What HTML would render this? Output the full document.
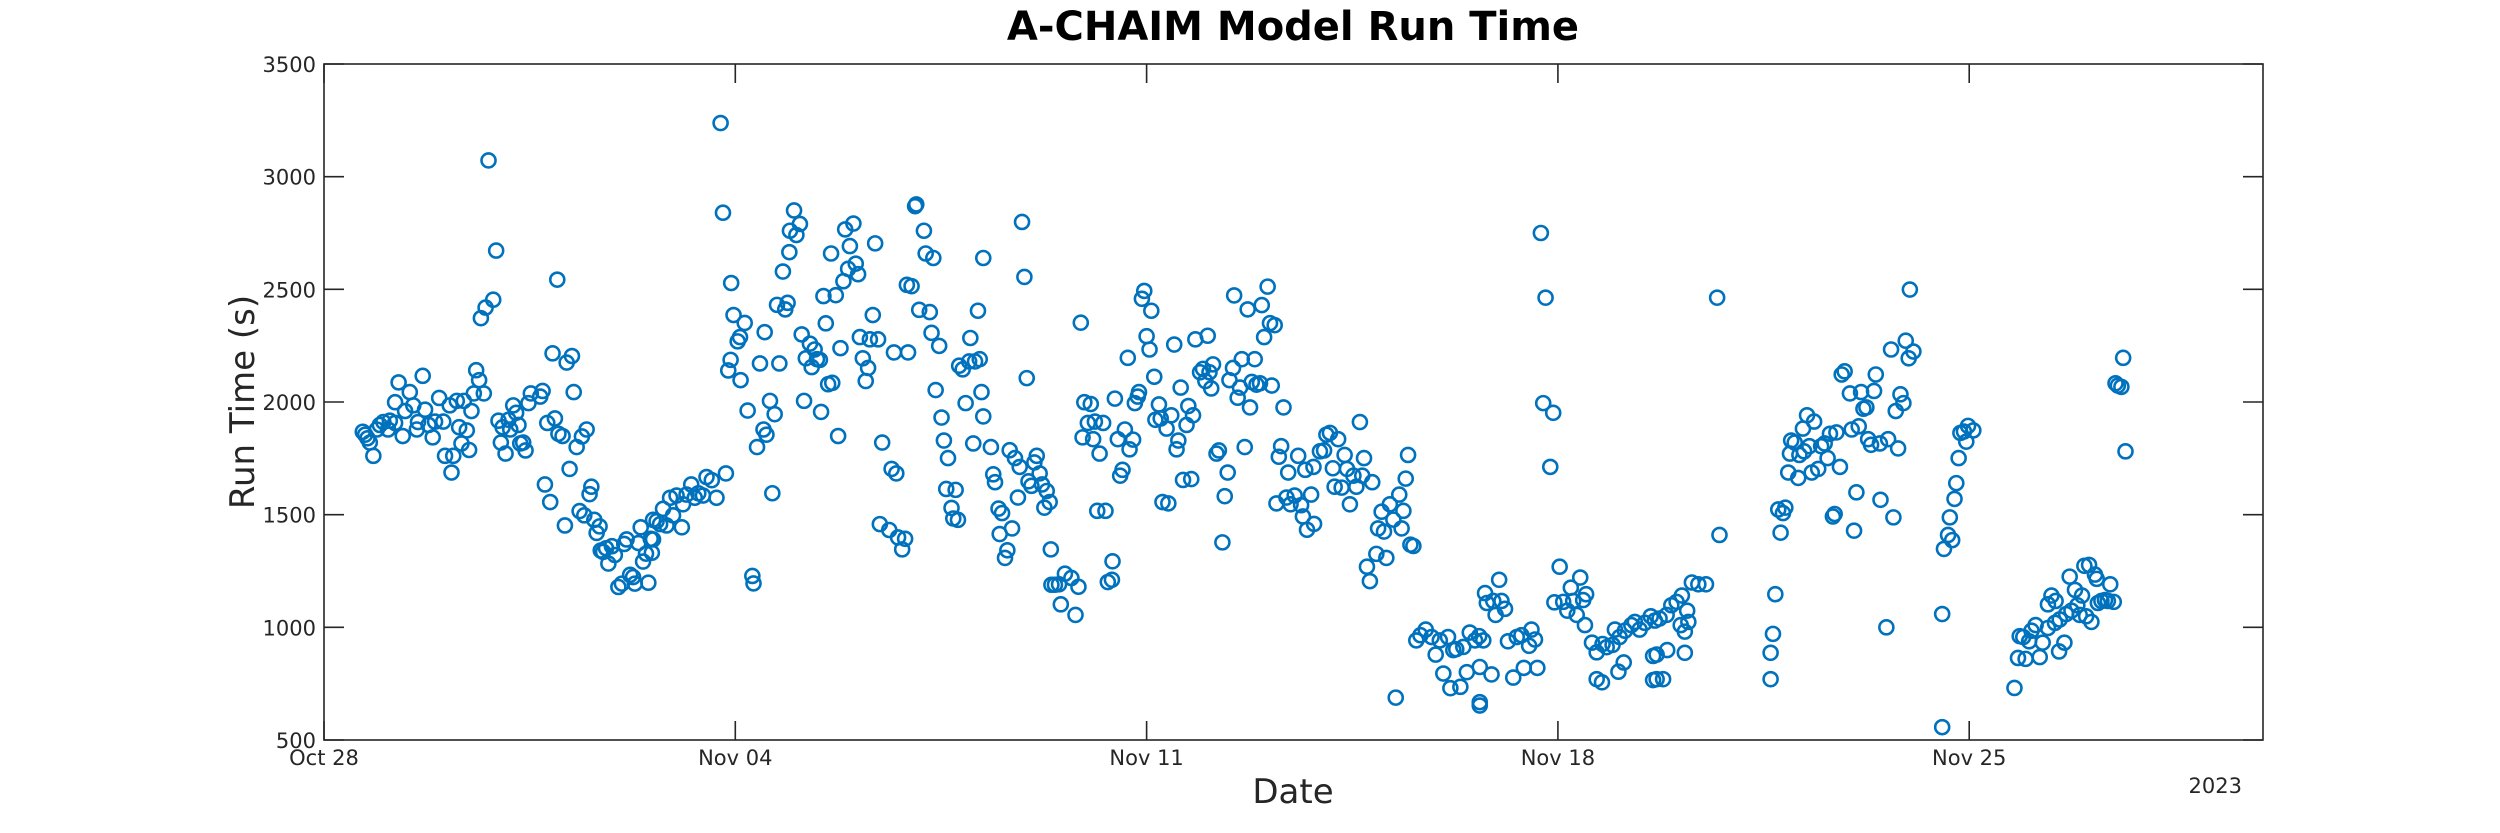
<!DOCTYPE html>
<html>
<head>
<meta charset="utf-8">
<style>
  html, body { margin: 0; padding: 0; background: #ffffff; }
  body { width: 2500px; height: 833px; overflow: hidden; }
  svg { display: block; font-family: "DejaVu Sans", "Liberation Sans", sans-serif; }
</style>
</head>
<body>
<svg id="chart" width="2500" height="833" viewBox="0 0 2500 833" xmlns="http://www.w3.org/2000/svg">
  <rect x="0" y="0" width="2500" height="833" fill="#ffffff"/>
  <text x="1293" y="40" text-anchor="middle" font-size="40" font-weight="bold" fill="#000000">A-CHAIM Model Run Time</text>
  <g id="ticks"></g>
  <g id="points"></g>
  <rect x="324" y="64" width="1939" height="676" fill="none" stroke="#262626" stroke-width="1.6"/>
  <text x="1293" y="803" text-anchor="middle" font-size="34" fill="#262626">Date</text>
  <text x="0" y="0" transform="translate(254,402) rotate(-90)" text-anchor="middle" font-size="34" fill="#262626">Run Time (s)</text>
  <text x="2242" y="793" text-anchor="end" font-size="21" fill="#262626">2023</text>
</svg>
<script>
const xTickDays = [0, 7, 14, 21, 28];
const xTickLabels = ["Oct 28", "Nov 04", "Nov 11", "Nov 18", "Nov 25"];
const yTickValues = [500, 1000, 1500, 2000, 2500, 3000, 3500];
const yTickLabels = ["500", "1000", "1500", "2000", "2500", "3000", "3500"];

const runDays = [
0.66,0.70,0.74,0.78,0.84,0.90,0.95,1.01,1.09,1.12,1.21,1.21,1.27,1.34,1.38,1.46,1.52,1.58,1.60,1.68,1.72,1.78,1.85,1.89,1.96,2.03,2.06,2.14,2.17,2.20,2.26,2.30,2.34,2.38,2.43,2.47,2.51,2.55,2.59,2.64,2.67,2.72,2.75,2.80,2.88,2.93,2.97,3.01,3.04,3.09,3.14,3.17,3.22,3.27,3.31,3.34,3.39,3.43,3.48,3.52,3.68,3.72,3.76,3.80,3.85,3.89,3.93,3.97,3.99,4.06,4.10,4.13,4.18,4.22,4.25,4.30,4.35,4.39,4.43,4.47,4.52,4.55,4.60,4.64,4.69,4.71,4.75,4.80,4.84,4.90,4.95,5.01,5.07,5.11,5.15,5.21,5.26,5.29,5.35,5.39,5.43,5.48,5.52,5.56,5.60,
5.58,5.60,5.66,5.72,5.77,5.83,5.89,5.94,6.00,6.09,6.11,6.17,6.25,6.31,6.37,6.45,6.51,6.60,6.68,6.84,6.75,6.79,6.93,6.97,7.16,7.08,7.04,6.92,6.88,7.09,7.21,7.29,7.31,7.50,7.42,7.59,7.67,7.48,7.53,7.37,7.63,7.75,7.71,7.85,7.89,7.81,7.92,7.93,8.04,8.10,8.00,8.13,8.17,8.20,8.27,8.30,8.35,8.39,8.44,8.46,8.50,8.54,8.58,8.65,8.63,8.71,8.75,8.79,8.84,8.87,8.92,8.95,9.01,9.05,9.09,9.12,9.17,9.22,9.26,9.29,9.34,9.38,9.43,9.50,9.66,9.74,9.70,9.94,9.46,9.62,9.77,9.89,9.84,9.92,10.00,10.06,10.08,10.13,10.21,10.31,10.24,10.37,10.34,10.47,10.41,10.51,10.55,10.62,10.59,10.75,10.68,10.71,10.79,10.81,10.87,10.92,11.00,10.98,11.08,11.13,11.05,11.19,11.22,11.16,11.22,
11.35,11.39,11.42,11.67,11.76,11.84,11.48,11.54,11.81,11.50,11.71,11.63,11.59,11.88,11.92,11.96,11.99,12.04,12.13,12.09,12.18,12.22,12.30,12.35,12.26,12.37,12.44,12.38,12.51,12.61,12.72,12.84,12.54,12.79,12.88,12.94,13.05,13.00,13.12,13.26,12.91,13.09,13.20,13.16,13.30,13.34,13.41,13.42,13.46,13.51,13.63,13.71,13.77,13.55,13.59,13.68,13.80,13.85,13.87,13.92,13.96,14.08,14.00,14.05,14.13,14.15,14.21,14.24,14.34,14.42,14.47,14.51,14.54,14.58,14.62,14.76,14.68,14.71,14.79,14.27,14.37,14.83,14.91,14.96,15.04,15.00,15.07,15.13,15.10,15.19,15.23,15.38,15.33,15.29,15.49,15.72,15.96,16.06,16.10,16.18,16.00,15.62,15.84,15.47,15.41,15.59,15.55,15.79,15.93,15.87,16.13,15.76,15.67,16.33,16.29,16.25,16.58,16.41,16.70,16.84,16.95,16.21,16.38,16.52,16.80,16.45,16.63,16.66,16.73,16.85,
17.12,17.06,17.26,17.02,17.17,17.37,17.41,17.63,17.70,17.52,17.67,17.84,17.20,17.32,17.57,17.46,18.45,18.41,18.30,18.14,18.00,18.37,18.20,18.34,17.94,18.04,18.54,18.49,17.91,18.08,17.75,17.80,18.24,18.59,18.66,18.75,18.85,18.92,18.99,19.05,19.13,19.17,19.22,19.27,19.34,19.39,19.45,19.50,19.59,19.66,19.73,19.67,19.67,19.67,19.87,19.76,19.79,19.90,20.00,20.04,19.94,20.10,20.15,20.24,20.30,20.38,20.42,20.55,20.61,20.51,20.65,20.71,20.79,20.75,20.92,20.87,21.03,20.94,21.09,21.16,21.22,21.26,21.38,21.32,21.48,21.43,21.46,21.58,21.66,21.76,21.83,21.93,21.97,22.05,22.14,22.25,22.31,22.39,22.48,22.58,22.03,22.12,21.66,21.75,22.62,22.62,
22.65,22.73,22.85,22.93,23.02,23.11,23.20,23.28,23.39,23.52,23.09,23.16,23.22,23.16,22.86,22.79,22.68,22.68,23.71,23.75,24.62,24.62,24.66,24.70,24.79,24.75,24.87,24.83,24.92,25.09,24.95,24.97,25.03,25.11,25.17,25.24,25.36,25.28,25.19,25.32,25.43,25.48,25.54,25.59,25.63,25.74,25.80,25.68,25.71,25.83,25.88,25.97,26.00,26.12,26.16,26.20,26.25,26.08,26.04,26.28,26.33,26.38,26.41,26.48,26.62,26.49,26.59,26.67,26.71,26.75,26.79,26.83,26.88,26.92,26.97,27.05,26.99,27.54,27.54,27.57,27.64,27.71,27.67,27.75,27.78,27.82,27.95,27.85,27.91,27.98,28.07,
28.77,28.83,28.96,29.20,28.86,28.92,29.02,29.13,29.06,29.25,29.34,29.40,29.34,29.47,29.46,29.54,29.53,29.62,29.65,29.71,29.74,29.80,29.84,29.88,29.92,29.99,29.96,30.04,30.08,30.14,30.17,30.19,30.25,30.31,30.36,30.40,30.46,30.49,30.53,30.59,30.62,30.66
];

const runSeconds = [
1868,1855,1839,1820,1761,1878,1898,1911,1878,1917,1907,1999,2087,1849,1960,2044,1985,1878,1911,2116,1966,1898,1843,1913,2018,1913,1761,1985,1687,1761,2005,1888,1816,2005,1874,1787,1960,2038,2141,2097,2372,2038,2419,3072,2454,2672,1917,1820,1888,1771,1921,1878,1985,1952,1898,1816,1820,1785,1995,2038,2024,2049,1634,1907,1556,2216,1927,2543,1859,1849,1452,2175,1703,2204,2044,1800,1516,1847,1497,1878,1591,1624,1477,1419,1448,1341,1335,1351,1283,1360,1321,1179,1194,1370,1390,1233,1223,1194,1374,1444,1292,1327,1198,1393,1477,
1331,1390,1471,1458,1526,1452,1575,1497,1585,1444,1546,1589,1634,1575,1595,1585,1667,1653,1575,1683,3238,2840,2528,2386,2351,2288,2269,2187,2140,2097,1962,1228,1195,2310,2171,2005,1946,1878,1855,1800,1595,2171,2431,2411,2440,2579,2665,2760,2741,2790,2850,2300,2005,2194,2259,2155,2233,2190,2187,1956,2470,2349,2079,2085,2659,2474,1849,2239,2536,2766,2591,2692,2792,2614,2567,2288,2194,2093,2151,2278,2386,2704,2278,1820,1703,1683,2220,2220,1458,1432,1399,1393,1346,2520,2514,2869,2877,2409,2760,2399,2659,2639,2307,2249,2053,1931,1829,1751,1614,1610,1530,1483,1477,2161,2145,1995,2284,2180,2180,2405,1816,2044,1936,2190,2639,
1800,1679,1644,1786,1751,1712,1527,1507,1576,1414,1439,1342,1308,2799,2555,2106,1648,1628,1761,1732,1683,1634,1605,1556,1531,1346,1189,1189,1191,1238,1219,1180,1102,1055,2352,1999,1991,1907,1913,1907,1843,1835,1771,1517,1517,1201,1211,1293,2015,1835,1878,1790,1833,1673,1699,2196,1995,2024,2044,2458,2493,2405,2292,2233,2112,1921,1989,1927,1882,1941,2255,1790,1829,2064,1654,1658,1898,1982,1941,1556,1550,2278,2132,2147,2294,2093,2132,2167,2060,1771,1785,1687,1582,1377,2473,2411,2430,2512,2350,2341,2288,2190,2190,2151,2097,2064,2019,2089,2083,2077,2073,1976,1800,1976,1804,1757,1761,1687,1699,1712,1781,1550,1576,1585,1589,1546,1542,1492,1433,1459,
1863,1855,1835,1785,1706,1765,1703,1911,1751,1673,1673,1644,1624,1620,1624,1546,1765,1660,1589,1546,1513,1517,1478,1439,1439,1425,1361,1367,1326,1308,1269,1205,688,942,965,990,957,879,942,795,957,730,899,903,736,913,801,977,942,961,942,824,653,668,791,1152,1108,1117,1211,1117,1055,1082,938,777,957,965,820,990,946,918,820,2750,2463,1995,1952,1712,1269,1111,1113,1074,1176,1117,1221,1055,1147,1121,1010,932,889,926,912,922,990,957,985,1010,1024,990,1020,1049,803,844,770,756,873,766,
1030,1039,1055,1098,1113,1141,1074,1199,1191,1191,1010,981,1024,887,899,770,770,879,2463,1410,770,887,971,1147,1420,1523,1531,1507,1687,1663,1771,1829,1820,1765,1882,1941,1913,1804,1781,1687,1703,1804,1816,1751,1859,1865,1712,1492,1503,2122,2136,2038,1878,1892,2044,1970,1976,1599,1429,1835,1810,2049,2122,1816,1835,1566,1000,2233,1488,1960,1794,2034,1995,2272,2194,2224,2499,557,1059,1348,1410,1387,1488,1570,1640,1751,1824,1863,1869,1894,1874,
731,864,860,868,961,957,938,1010,985,932,997,1141,1102,1117,1020,1035,893,932,1059,1225,1074,1166,1098,1055,1141,1049,1273,1277,1024,1234,1215,1108,1117,1121,1117,1191,1113,2083,2073,2067,2196,1781
];

const plotLeft = 324, plotRight = 2263, plotTop = 64, plotBottom = 740;
const xMin = 0, xMax = 33, yMin = 500, yMax = 3500;
function xScale(d) { return plotLeft + (d - xMin) / (xMax - xMin) * (plotRight - plotLeft); }
function yScale(v) { return plotBottom - (v - yMin) / (yMax - yMin) * (plotBottom - plotTop); }

const NS = "http://www.w3.org/2000/svg";
const ticksG = document.getElementById("ticks");
const pointsG = document.getElementById("points");

function mk(tag, attrs) {
  const e = document.createElementNS(NS, tag);
  for (const k in attrs) e.setAttribute(k, attrs[k]);
  return e;
}

xTickDays.forEach((d, i) => {
  const x = xScale(d);
  const tb = mk("line", { x1: x, x2: x, y1: plotBottom, y2: plotBottom - 19, stroke: "#262626", "stroke-width": 1.6 });
  
  
  ticksG.appendChild(tb);
  const tt = mk("line", { x1: x, x2: x, y1: plotTop, y2: plotTop + 19, stroke: "#262626", "stroke-width": 1.6 });
  
  
  ticksG.appendChild(tt);
  const lab = mk("text", { x: x, y: 765, "text-anchor": "middle", "font-size": 21, fill: "#262626" });
  lab.textContent = xTickLabels[i];
  
  
  ticksG.appendChild(lab);
});

yTickValues.forEach((v, i) => {
  const y = yScale(v);
  const tl = mk("line", { x1: plotLeft, x2: plotLeft + 20, y1: y, y2: y, stroke: "#262626", "stroke-width": 1.6 });
  
  
  ticksG.appendChild(tl);
  const tr = mk("line", { x1: plotRight - 20, x2: plotRight, y1: y, y2: y, stroke: "#262626", "stroke-width": 1.6 });
  
  
  ticksG.appendChild(tr);
  const lab = mk("text", { x: plotLeft - 8, y: y + 8, "text-anchor": "end", "font-size": 21, fill: "#262626" });
  lab.textContent = yTickLabels[i];
  
  
  ticksG.appendChild(lab);
});

runDays.forEach((d, i) => {
  const v = runSeconds[i];
  if (v === undefined) return;
  const c = mk("circle", { cx: xScale(d), cy: yScale(v), r: 7, fill: "none", stroke: "#0072BD", "stroke-width": 2.6 });
  
  
  pointsG.appendChild(c);
});
</script>
</body>
</html>
